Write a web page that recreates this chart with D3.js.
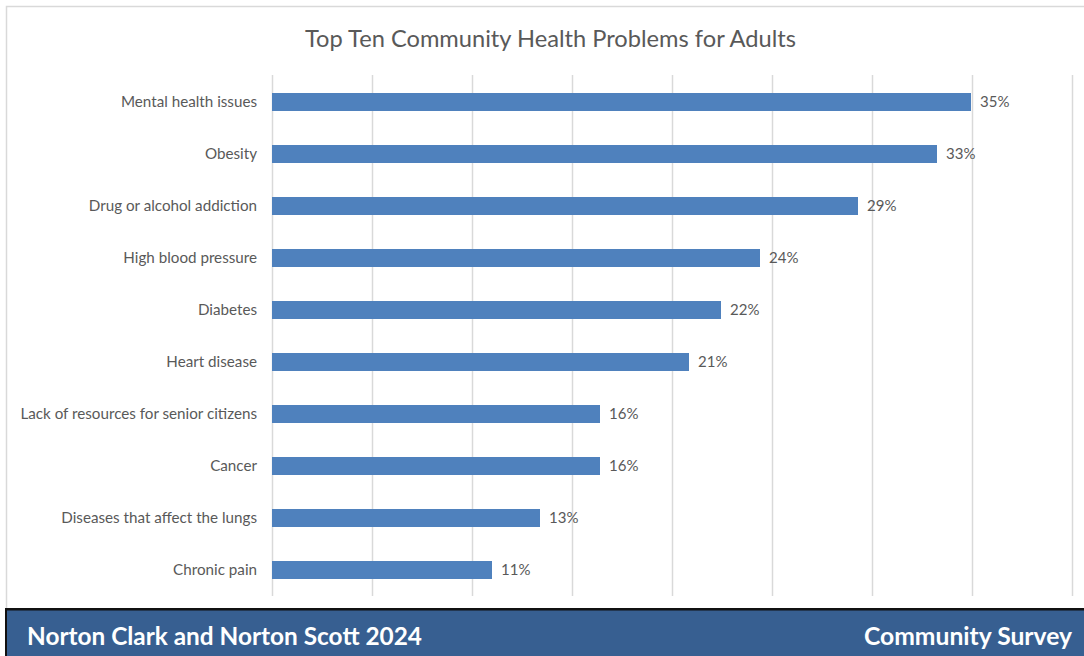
<!DOCTYPE html>
<html>
<head>
<meta charset="utf-8">
<script src="https://cdn.jsdelivr.net/npm/d3@7"></script>
<style>
  html, body { margin: 0; padding: 0; background: #fff; }
  svg { display: block; }
  text { font-family: Lato, "Open Sans", sans-serif; }
</style>
</head>
<body>
<svg id="chart" width="1084" height="656"></svg>
<script>
// Survey results: share of respondents naming each problem
const categories = [
  "Mental health issues",
  "Obesity",
  "Drug or alcohol addiction",
  "High blood pressure",
  "Diabetes",
  "Heart disease",
  "Lack of resources for senior citizens",
  "Cancer",
  "Diseases that affect the lungs",
  "Chronic pain"
];
const values = [34.95, 33.25, 29.3, 24.4, 22.45, 20.85, 16.4, 16.4, 13.4, 11.0];
const gridTicks = [0, 5, 10, 15, 20, 25, 30, 35, 40];

const titleText = "Top Ten Community Health Problems for Adults";
const footerLeft = "Norton Clark and Norton Scott 2024";
const footerRight = "Community Survey";

const svg = d3.select("#chart");
const W = 1084, H = 656;

// chart area frame
svg.append("rect")
  .attr("x", 6.5).attr("y", 6.5)
  .attr("width", W + 10).attr("height", H)
  .attr("fill", "#fff")
  .attr("stroke", "#d9d9d9").attr("stroke-width", 1.5);

const x = d3.scaleLinear().domain([0, 40]).range([272, 1072]);
const y = d3.scaleBand().domain(categories).range([76, 596])
  .paddingInner(0.654).paddingOuter(0.327);

// vertical gridlines
svg.append("g").selectAll("line")
  .data(gridTicks)
  .join("line")
  .attr("x1", d => Math.round(x(d)) + 0.5)
  .attr("x2", d => Math.round(x(d)) + 0.5)
  .attr("y1", 75).attr("y2", 596)
  .attr("stroke", "#d9d9d9").attr("stroke-width", 1.5);

// bars
svg.append("g").selectAll("rect")
  .data(categories)
  .join("rect")
  .attr("x", x(0))
  .attr("y", d => y(d))
  .attr("width", (d, i) => x(values[i]) - x(0))
  .attr("height", y.bandwidth())
  .attr("fill", "#4f81bd");

// category labels
svg.append("g").selectAll("text")
  .data(categories)
  .join("text")
  .attr("x", 257)
  .attr("y", d => y(d) + y.bandwidth() / 2)
  .attr("dy", "0.35em")
  .attr("text-anchor", "end")
  .attr("font-size", 15.2)
  .attr("fill", "#595959")
  .text(d => d);

// value labels
const pct = v => d3.format(".0f")(v) + "%";
svg.append("g").selectAll("text")
  .data(categories)
  .join("text")
  .attr("x", (d, i) => x(values[i]) + 9)
  .attr("y", d => y(d) + y.bandwidth() / 2)
  .attr("dy", "0.35em")
  .attr("font-size", 15)
  .attr("fill", "#595959")
  .text((d, i) => pct(values[i]));

// title
svg.append("text")
  .attr("x", 550.5).attr("y", 47)
  .attr("text-anchor", "middle")
  .attr("font-size", 23)
  .attr("textLength", 491).attr("lengthAdjust", "spacingAndGlyphs")
  .attr("fill", "#595959")
  .text(titleText);

// footer band
svg.append("rect")
  .attr("x", 5).attr("y", 608)
  .attr("width", W).attr("height", H - 608)
  .attr("fill", "#111");
svg.append("rect")
  .attr("x", 7).attr("y", 610.5)
  .attr("width", W).attr("height", H - 610)
  .attr("fill", "#375f91");
svg.append("text")
  .attr("x", 27).attr("y", 645)
  .attr("font-size", 24).attr("font-weight", "bold")
  .attr("textLength", 395).attr("lengthAdjust", "spacingAndGlyphs")
  .attr("fill", "#fff")
  .text(footerLeft);
svg.append("text")
  .attr("x", 864).attr("y", 645)
  .attr("font-size", 24).attr("font-weight", "bold")
  .attr("textLength", 208).attr("lengthAdjust", "spacingAndGlyphs")
  .attr("fill", "#fff")
  .text(footerRight);
</script>
</body>
</html>
